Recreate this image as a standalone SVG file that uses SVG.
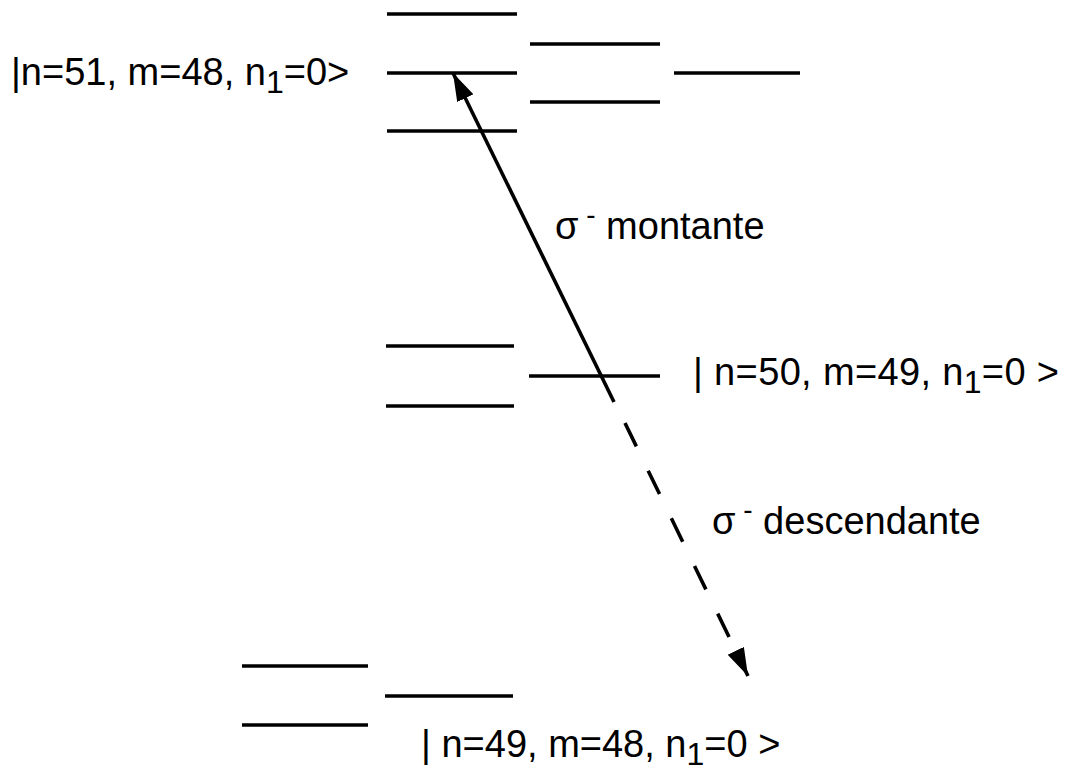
<svg xmlns="http://www.w3.org/2000/svg" width="1066" height="772" viewBox="0 0 1066 772">
<style>
.lvl{stroke:#000;stroke-width:3.4;fill:none}
.lbl{font-family:"Liberation Sans",Arial,sans-serif;font-size:38px;fill:#000}
.sub{font-size:32px}
.ar{stroke:#000;stroke-width:3.6;fill:none}
</style>
<defs>
<marker id="ah" markerUnits="userSpaceOnUse" markerWidth="30" markerHeight="20" refX="28" refY="9" orient="auto">
<path d="M0,0 L28,9 L0,18 z" fill="#000"/>
</marker>
</defs>
<rect width="1066" height="772" fill="#fff"/>
<g id="levels-n51">
<line class="lvl" x1="387" y1="14" x2="517" y2="14"/>
<line class="lvl" x1="387" y1="73" x2="517" y2="73"/>
<line class="lvl" x1="387" y1="131" x2="517" y2="131"/>
<line class="lvl" x1="530" y1="44" x2="660" y2="44"/>
<line class="lvl" x1="530" y1="102" x2="660" y2="102"/>
<line class="lvl" x1="674" y1="73" x2="800" y2="73"/>
</g>
<g id="levels-n50">
<line class="lvl" x1="386" y1="346" x2="514" y2="346"/>
<line class="lvl" x1="386" y1="406" x2="514" y2="406"/>
<line class="lvl" x1="529" y1="376" x2="660" y2="376"/>
</g>
<g id="levels-n49">
<line class="lvl" x1="242" y1="666" x2="368" y2="666"/>
<line class="lvl" x1="242" y1="725" x2="368" y2="725"/>
<line class="lvl" x1="385" y1="696" x2="513" y2="696"/>
</g>
<g id="label-n51">
<text class="lbl" x="11" y="85">|n=51, m=48, n<tspan class="sub" dy="8">1</tspan><tspan dy="-8">=0&gt;</tspan></text>
</g>
<g id="label-n50">
<text class="lbl" x="693" y="385" textLength="366">| n=50, m=49, n<tspan class="sub" dy="8">1</tspan><tspan dy="-8">=0 &gt;</tspan></text>
</g>
<g id="label-n49">
<text class="lbl" x="421" y="757">| n=49, m=48, n<tspan class="sub" dy="8">1</tspan><tspan dy="-8">=0 &gt;</tspan></text>
</g>
<g id="connectors">
<line class="ar" x1="614" y1="402" x2="453" y2="73" marker-end="url(#ah)"/>
<line class="ar" x1="625" y1="423" x2="748" y2="676" stroke-dasharray="26 27" marker-end="url(#ah)"/>
</g>
<g id="label-montante">
<text class="lbl" x="555" y="239">σ<tspan font-size="28" dy="-15"> -</tspan><tspan dy="15"> montante</tspan></text>
</g>
<g id="label-descendante">
<text class="lbl" x="712" y="534">σ<tspan font-size="28" dy="-15"> -</tspan><tspan dy="15"> descendante</tspan></text>
</g>
</svg>
